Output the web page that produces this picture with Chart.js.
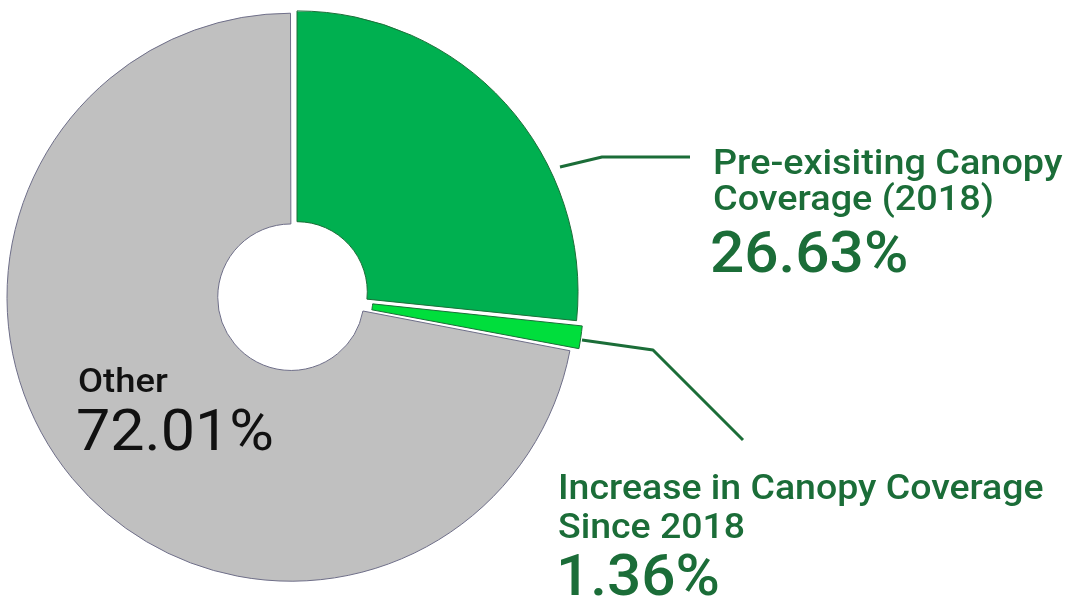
<!DOCTYPE html>
<html>
<head>
<meta charset="utf-8">
<script src="https://cdn.jsdelivr.net/npm/chart.js@4/dist/chart.umd.min.js"></script>
<style>
  html, body { margin: 0; padding: 0; background: #fff; }
  canvas { display: block; }
</style>
</head>
<body>
<canvas id="chart" width="1077" height="601"></canvas>
<script>
'use strict';

// slices, clockwise from 12 o'clock
const categories = ['Pre-exisiting Canopy Coverage (2018)', 'Increase in Canopy Coverage Since 2018', 'Other'];
const shares = [26.63, 1.36, 72.01];
const sliceColors = ['#00b050', '#00de3c', '#c0c0c0'];
const edgeColors = ['#1c6e38', '#1c6e38', '#6e6e88'];
// how far each slice is pulled out (chart.js moves arcs by offset/4)
const sliceOffsets = [20, 20, 12];

// label text blocks
const labelLines = [
    ['Pre-exisiting Canopy', 'Coverage (2018)'],
    ['Increase in Canopy Coverage', 'Since 2018'],
    ['Other']
];

const textGreen = '#1b6d38';

let canvasElem = document.getElementById('chart');

// text in the picture is a bit wider than Roboto, so stretch it a little
function drawText(ctx, str, x, y, font, sx) {
    ctx.save();
    ctx.font = font;
    ctx.translate(x, y);
    ctx.scale(sx, 1);
    ctx.fillText(str, 0, 0);
    ctx.restore();
}

const calloutPlugin = {
    id: 'callouts',
    afterDraw(chart) {
        const ctx = chart.ctx;
        ctx.save();

        // leader lines
        ctx.strokeStyle = textGreen;
        ctx.lineWidth = 3;
        ctx.lineJoin = 'round';
        ctx.beginPath();
        ctx.moveTo(560, 167);
        ctx.lineTo(602, 157);
        ctx.lineTo(690, 157);
        ctx.stroke();

        ctx.beginPath();
        ctx.moveTo(582, 340);
        ctx.lineTo(653, 350);
        ctx.lineTo(743, 440);
        ctx.stroke();

        ctx.textBaseline = 'alphabetic';
        ctx.textAlign = 'left';

        // pre-existing canopy
        ctx.fillStyle = textGreen;
        drawText(ctx, labelLines[0][0], 713, 174, '500 35px Roboto', 1.08);
        drawText(ctx, labelLines[0][1], 713, 210, '500 35px Roboto', 1.08);
        drawText(ctx, shares[0].toFixed(2) + '%', 710, 272, '500 58px Roboto', 1.04);

        // increase
        drawText(ctx, labelLines[1][0], 558, 499, '500 35px Roboto', 1.07);
        drawText(ctx, labelLines[1][1], 558, 538, '500 35px Roboto', 1.07);
        drawText(ctx, shares[1].toFixed(2) + '%', 556, 595, '500 58px Roboto', 1.04);

        // other
        ctx.fillStyle = '#111111';
        drawText(ctx, labelLines[2][0], 78, 392, '500 34px Roboto', 1.07);
        drawText(ctx, shares[2].toFixed(2) + '%', 76, 450, '400 57px Roboto', 1.07);

        ctx.restore();
    }
};

function renderChart() {
    new Chart(canvasElem, {
        type: 'doughnut',
        data: {
            labels: categories,
            datasets: [{
                data: shares,
                backgroundColor: sliceColors,
                borderColor: edgeColors,
                borderWidth: 1,
                offset: sliceOffsets,
                hoverOffset: 0
            }]
        },
        options: {
            responsive: false,
            animation: false,
            cutout: '25%',
            layout: {
                padding: { left: 1.8, top: 3.8, right: 492.2, bottom: 14.2 }
            },
            plugins: {
                legend: { display: false },
                tooltip: { enabled: false }
            }
        },
        plugins: [calloutPlugin]
    });
}

renderChart();
</script>
</body>
</html>
